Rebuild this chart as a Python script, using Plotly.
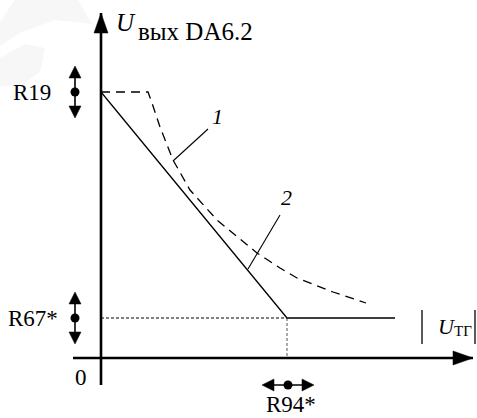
import plotly.graph_objects as go

# ---- data (chart units = page pixels, y grows downward) ----
origin_x = 101
origin_y = 358
x_axis_span = [73, 473]
y_axis_span = [385, 13]

level_r19 = 92          # upper output level
level_r67 = 318         # lower output level
knee_x = 287            # break point set by R94*
flat_end_x = 395

curve1_x = [101, 148, 152, 160, 173, 190, 217, 257, 280, 297, 333, 366]
curve1_y = [92, 92, 103, 127, 160, 190, 220, 253, 268, 278, 292, 303]

curve2_x = [101, knee_x, flat_end_x]
curve2_y = [level_r19, level_r67, level_r67]

labels_num = ["1", "2"]
leader_x = [[173, 208], [248, 280]]
leader_y = [[161, 129], [269, 215]]
label_num_pos = [(217, 116), (286, 197)]

wm1_x = [15, 78, 92, 55, 22, 0, 0]
wm1_y = [0, 0, 24, 20, 32, 46, 22]
wm2_x = [0, 25, 45, 40, 20, 0]
wm2_y = [58, 44, 48, 72, 86, 86]

SERIF = "Liberation Serif, Times New Roman, DejaVu Serif, serif"

fig = go.Figure()

def line(xs, ys, width=1.3, dash=None, color="black"):
    fig.add_trace(go.Scatter(x=xs, y=ys, mode="lines",
                             line=dict(color=color, width=width, dash=dash),
                             hoverinfo="skip", showlegend=False))

def tri(xs, ys, color="black"):
    fig.add_trace(go.Scatter(x=xs + [xs[0]], y=ys + [ys[0]], mode="lines",
                             fill="toself", fillcolor=color,
                             line=dict(color=color, width=0.5),
                             hoverinfo="skip", showlegend=False))

# faint watermark
for wx, wy in [(wm1_x, wm1_y), (wm2_x, wm2_y)]:
    fig.add_trace(go.Scatter(x=wx + [wx[0]], y=wy + [wy[0]], mode="lines",
                             fill="toself", fillcolor="#f7f7f7",
                             line=dict(width=0, color="#f7f7f7"),
                             hoverinfo="skip", showlegend=False))

# axes
line(x_axis_span, [origin_y, origin_y], width=2.6)
line([origin_x, origin_x], y_axis_span, width=2.6)
ah_len, ah_half = 20, 7
tri([x_axis_span[1], x_axis_span[1] - ah_len, x_axis_span[1] - ah_len],
    [origin_y, origin_y - ah_half, origin_y + ah_half])
tri([origin_x, origin_x - ah_half, origin_x + ah_half],
    [y_axis_span[1], y_axis_span[1] + ah_len, y_axis_span[1] + ah_len])

# helper dotted lines
line([origin_x, knee_x], [level_r67, level_r67], width=1, dash="3px,2px")
line([knee_x, knee_x], [level_r67, origin_y], width=1, dash="3px,2px", color="#555")

# curves
line(curve1_x, curve1_y, width=1.3, dash="9px,6px")
line(curve2_x, curve2_y, width=1.3)

# leaders and numbers
for (lx, ly), (px, py), t in zip(zip(leader_x, leader_y), label_num_pos, labels_num):
    line(lx, ly, width=1.1)
    fig.add_annotation(x=px, y=py, text=f"<i>{t}</i>", showarrow=False,
                       font=dict(family=SERIF, size=22, color="black"))

# double arrows with dots
def vdouble(x, yc, half=26):
    line([x, x], [yc - half + 6, yc + half - 6], width=1.6)
    tri([x, x - 6, x + 6], [yc - half, yc - half + 12, yc - half + 12])
    tri([x, x - 6, x + 6], [yc + half, yc + half - 12, yc + half - 12])
    fig.add_trace(go.Scatter(x=[x], y=[yc], mode="markers",
                             marker=dict(color="black", size=9),
                             hoverinfo="skip", showlegend=False))

def hdouble(xc, y, half=26):
    line([xc - half + 6, xc + half - 6], [y, y], width=1.6)
    tri([xc - half, xc - half + 12, xc - half + 12], [y, y - 6, y + 6])
    tri([xc + half, xc + half - 12, xc + half - 12], [y, y - 6, y + 6])
    fig.add_trace(go.Scatter(x=[xc], y=[y], mode="markers",
                             marker=dict(color="black", size=9),
                             hoverinfo="skip", showlegend=False))

vdouble(75, level_r19)
vdouble(75, level_r67)
hdouble(knee_x + 1, 385)

tf = dict(family=SERIF, size=23, color="black")
fig.add_annotation(x=32, y=level_r19, text="R19", showarrow=False, font=tf)
fig.add_annotation(x=33, y=level_r67, text="R67*", showarrow=False, font=tf)
fig.add_annotation(x=81, y=377, text="0", showarrow=False, font=tf)
fig.add_annotation(x=291, y=404, text="R94*", showarrow=False, font=tf)
fig.add_annotation(x=126, y=22, text="<i>U</i>", showarrow=False,
                   font=dict(family=SERIF, size=25, color="black"))
fig.add_annotation(x=136, y=31, text="вых DA6.2", showarrow=False, xanchor="left",
                   font=dict(family=SERIF, size=25, color="black"))
fig.add_annotation(x=436, y=326, text="<i>U</i>", showarrow=False, xanchor="left",
                   font=dict(family=SERIF, size=22, color="black"))
fig.add_annotation(x=452, y=331, text="ТГ", showarrow=False, xanchor="left",
                   font=dict(family=SERIF, size=15, color="black"))
line([422, 422], [310, 344], width=1.3)
line([475, 475], [310, 344], width=1.3)

fig.update_layout(
    width=477, height=418, margin=dict(l=0, r=0, t=0, b=0),
    paper_bgcolor="white", plot_bgcolor="white",
    xaxis=dict(range=[0, 477], visible=False, fixedrange=True),
    yaxis=dict(range=[418, 0], visible=False, fixedrange=True),
    showlegend=False,
)
fig.write_html("out.html", config={"displayModeBar": False},
               post_script="document.body.style.margin='0';document.body.style.overflow='hidden';")
